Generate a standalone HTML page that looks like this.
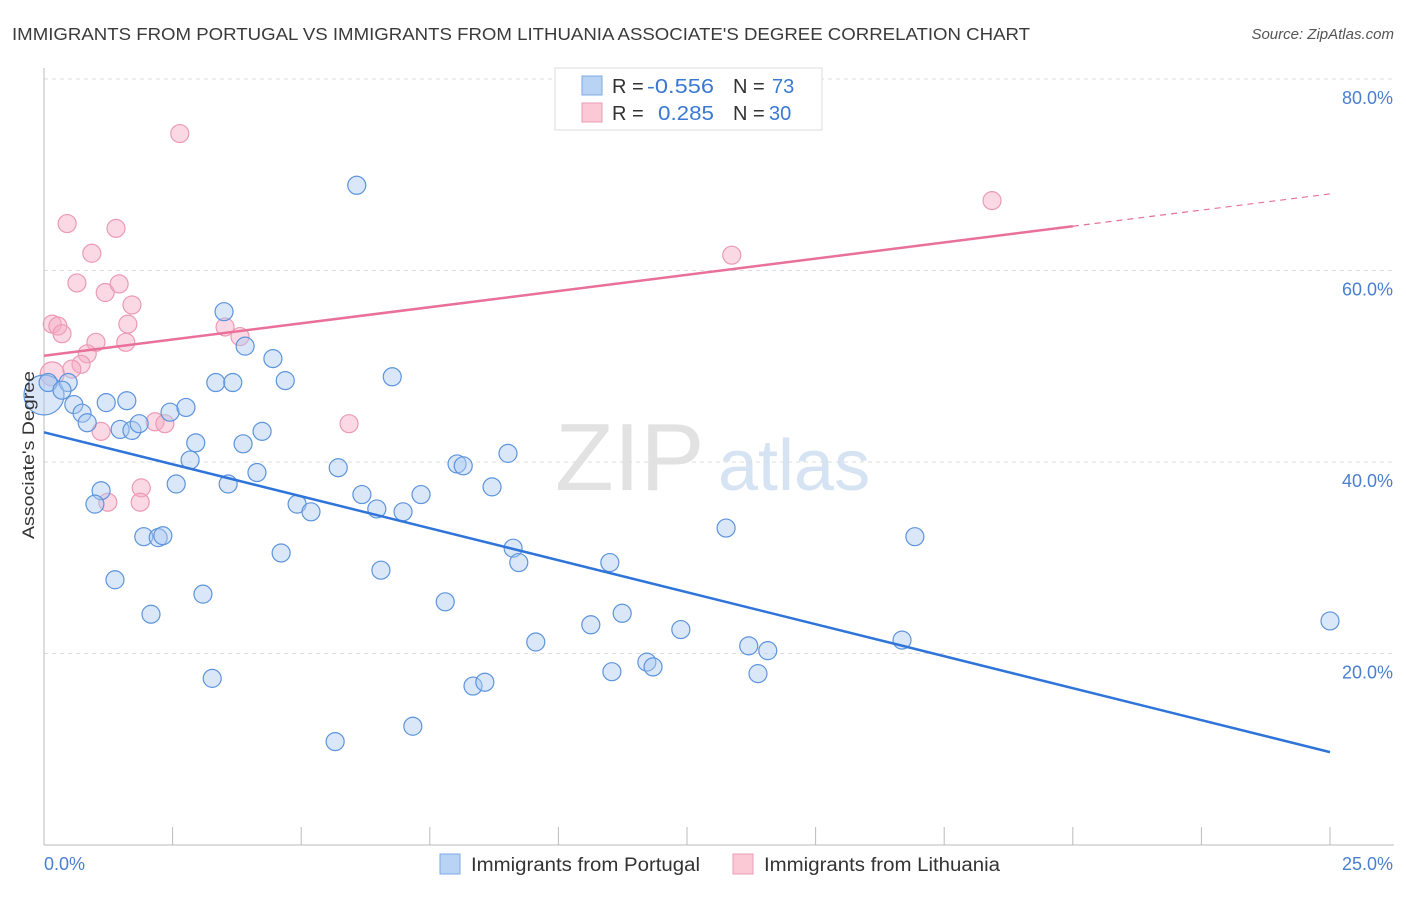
<!DOCTYPE html>
<html><head><meta charset="utf-8"><style>
body{margin:0;background:#fff;font-family:"Liberation Sans",sans-serif;}
svg text{font-family:"Liberation Sans",sans-serif;}
</style></head><body>
<svg id="chart" width="1406" height="892" xmlns="http://www.w3.org/2000/svg">
<text x="12" y="40" font-size="17.5" fill="#3a3a3a" textLength="1018" lengthAdjust="spacingAndGlyphs">IMMIGRANTS FROM PORTUGAL VS IMMIGRANTS FROM LITHUANIA ASSOCIATE'S DEGREE CORRELATION CHART</text>
<text x="1394" y="39" font-size="15" fill="#555" font-style="italic" text-anchor="end">Source: ZipAtlas.com</text>
<g>
<text x="555" y="490" font-size="96" fill="#e2e2e2" font-family="Liberation Serif, serif">ZIP</text>
<text x="718" y="490" font-size="72" fill="#d6e3f3">atlas</text>
</g>
<g id="grid"></g><g id="axes"></g><g id="marks"></g>
<text transform="translate(34,455) rotate(-90)" font-size="17" fill="#333" text-anchor="middle" textLength="168" lengthAdjust="spacingAndGlyphs">Associate's Degree</text>
<g>
<rect x="555" y="68" width="267" height="62" fill="#fff" stroke="#ddd"/>
<rect x="582" y="76" width="20" height="19" fill="#b9d3f5" stroke="#7fa9e3"/>
<rect x="582" y="103" width="20" height="19" fill="#fbc8d6" stroke="#ee9bb5"/>
<text x="612" y="93" font-size="20" fill="#333">R = </text><text x="647" y="93" font-size="20" fill="#3a78d4" textLength="67" lengthAdjust="spacingAndGlyphs">-0.556</text>
<text x="733" y="93" font-size="20" fill="#333">N = </text><text x="772" y="93" font-size="20" fill="#3a78d4">73</text>
<text x="612" y="120" font-size="20" fill="#333">R = </text><text x="658" y="120" font-size="20" fill="#3a78d4" textLength="56" lengthAdjust="spacingAndGlyphs">0.285</text>
<text x="733" y="120" font-size="20" fill="#333">N = </text><text x="769" y="120" font-size="20" fill="#3a78d4">30</text>
</g>
<g>
<rect x="440" y="854" width="20" height="20" fill="#b9d3f5" stroke="#7fa9e3"/>
<text x="471" y="871" font-size="19" fill="#333" textLength="229" lengthAdjust="spacingAndGlyphs">Immigrants from Portugal</text>
<rect x="733" y="854" width="20" height="20" fill="#fbc8d6" stroke="#ee9bb5"/>
<text x="764" y="871" font-size="19" fill="#333" textLength="236" lengthAdjust="spacingAndGlyphs">Immigrants from Lithuania</text>
</g>
</svg>
<script>
const yTicks=[20,40,60,80];
const yTickLabels=["20.0%","40.0%","60.0%","80.0%"];
const xTicks=[0,2.5,5,7.5,10,12.5,15,17.5,20,22.5,25];
const xEndLabels=["0.0%","25.0%"];
const portugalX=[0.0,0.08,0.47,0.35,0.58,0.74,0.84,1.21,1.61,1.48,1.71,1.85,2.45,2.76,2.95,2.84,2.57,1.11,0.99,1.94,2.22,2.31,1.38,2.08,3.09,3.27,3.50,3.91,3.34,3.67,3.87,3.58,4.14,4.24,4.45,4.69,4.92,5.19,4.61,6.08,5.72,6.18,6.47,6.55,6.77,6.98,7.33,5.66,7.17,7.80,8.03,8.15,9.02,8.71,9.12,9.23,8.34,8.57,9.56,10.63,11.04,11.00,11.24,11.72,11.84,12.38,13.26,13.70,13.88,14.07,16.68,16.93,25.0];
const portugalY=[47.0,48.3,48.3,47.5,46.0,45.1,44.1,46.2,46.4,43.4,43.3,44.0,45.2,45.7,42.0,40.2,37.7,37.0,35.6,32.2,32.1,32.3,27.7,24.1,26.2,17.4,55.7,52.1,48.3,48.3,41.9,37.7,38.9,43.2,50.8,48.5,35.6,34.8,30.5,68.9,39.4,36.6,35.1,28.7,48.9,34.8,36.6,10.8,12.4,25.4,39.8,39.6,40.9,37.4,31.0,29.5,16.6,17.0,21.2,23.0,18.1,29.5,24.2,19.1,18.6,22.5,33.1,20.8,17.9,20.3,21.4,32.2,23.4];
const lithX=[0.16,0.27,0.35,0.45,0.64,0.93,1.40,1.19,1.46,1.71,1.63,1.01,1.59,0.84,0.72,0.54,0.16,2.64,3.52,3.81,1.11,2.16,2.35,1.89,1.87,1.24,5.93,13.37,18.43];
const lithY=[54.4,54.2,53.4,64.9,58.7,61.8,64.4,57.7,58.6,56.4,54.4,52.5,52.5,51.3,50.2,49.7,49.2,74.3,54.1,53.1,43.2,44.2,44.0,37.3,35.8,35.8,44.0,61.6,67.3];
const portugalTrend=[43.1,9.7];
const lithTrend=[51.1,68.0];
const lithSolidEnd=20;

const NS="http://www.w3.org/2000/svg";
const X0=44,X1=1330,YB=845,PX20=191.5;
const xs=v=>X0+v/25*(X1-X0);
const ys=v=>YB-v/20*PX20;
function mk(tag,attrs,parent){const e=document.createElementNS(NS,tag);for(const k in attrs)e.setAttribute(k,attrs[k]);parent.appendChild(e);return e;}
const grid=document.getElementById('grid'),axes=document.getElementById('axes'),marks=document.getElementById('marks');
yTicks.forEach((t,i)=>{
  const l=mk('line',{x1:44,x2:1394,y1:ys(t),y2:ys(t),stroke:'#ddd','stroke-dasharray':'4,4'},grid);
  
  
  const tx=mk('text',{x:1393,y:ys(t)+25,'font-size':18,fill:'#4a7fd0','text-anchor':'end'},axes);
  tx.textContent=yTickLabels[i];
  
  
});
const ax=mk('line',{x1:44,x2:44,y1:68,y2:845,stroke:'#bbb'},axes);


const bx=mk('line',{x1:44,x2:1394,y1:845,y2:845,stroke:'#bbb'},axes);


xTicks.forEach(t=>{const l=mk('line',{x1:xs(t),x2:xs(t),y1:827,y2:845,stroke:'#bbb'},axes);
  
  });
const xl0=mk('text',{x:44,y:870,'font-size':18,fill:'#4a7fd0'},axes);xl0.textContent=xEndLabels[0];


const xl1=mk('text',{x:1393,y:870,'font-size':18,fill:'#4a7fd0','text-anchor':'end'},axes);xl1.textContent=xEndLabels[1];



lithX.forEach((v,i)=>{const c=mk('circle',{cx:xs(v),cy:ys(lithY[i]),r:i==16?12:9,fill:'rgba(245,170,195,0.45)',stroke:'#ec9ab4','stroke-width':1.2},marks);
  
  });
portugalX.forEach((v,i)=>{const c=mk('circle',{cx:xs(v),cy:ys(portugalY[i]),r:i==0?20:9,fill:'rgba(170,202,242,0.45)',stroke:'#5d94dc','stroke-width':1.2},marks);
  
  });
const lt=v=>lithTrend[0]+(lithTrend[1]-lithTrend[0])*v/25;
const p1=mk('line',{x1:xs(0),y1:ys(portugalTrend[0]),x2:xs(25),y2:ys(portugalTrend[1]),stroke:'#2f74d8','stroke-width':2.5},marks);


const l1=mk('line',{x1:xs(0),y1:ys(lt(0)),x2:xs(lithSolidEnd),y2:ys(lt(lithSolidEnd)),stroke:'#e8709a','stroke-width':2.5},marks);


const l2=mk('line',{x1:xs(lithSolidEnd),y1:ys(lt(lithSolidEnd)),x2:xs(25),y2:ys(lt(25)),stroke:'#e8709a','stroke-width':1.2,'stroke-dasharray':'6,5'},marks);


</script>
</body></html>
